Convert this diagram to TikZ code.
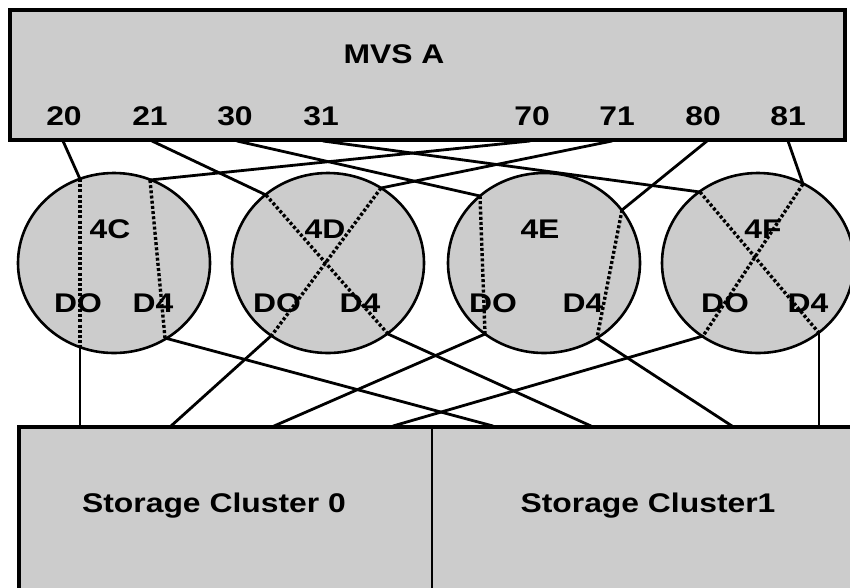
\documentclass[tikz,border=0pt]{standalone}
\usepackage{fontspec}
\newfontfamily\labfont{Liberation Sans}[FakeStretch=1.18]
\usetikzlibrary{shapes.geometric}
\definecolor{boxgray}{HTML}{CCCCCC}
\begin{document}
\begin{tikzpicture}[x=1pt,y=-1pt,
  lab/.style={font=\labfont\bfseries\fontsize{27}{27}\selectfont, inner sep=0pt, anchor=base},
  bigbox/.style={draw, fill=boxgray, line width=3.6pt, rectangle, inner sep=0pt},
  disc/.style={ellipse, draw, fill=boxgray, line width=2.6pt, inner sep=0pt, minimum width=192pt, minimum height=180pt},
  wire/.style={line width=2.8pt, line cap=round},
  dotwire/.style={line width=3.4pt, dash pattern=on 3pt off 2.2pt}]
\useasboundingbox (0,0) rectangle (850,587);
\clip (0,0) rectangle (850,587);
\fill[white] (0,0) rectangle (850,587);

% top box
\node[bigbox, minimum width=835pt, minimum height=130pt] (mvs) at (427.5,75) {};
\node[lab] (mvsl) at (394,63) {MVS A};
\foreach \n/\x in {20/64,21/150,30/235,31/321,70/532,71/617,80/703,81/788}
  \node[lab] (p\n) at (\x,125) {\n};
\foreach \n/\x in {20/63,21/152,30/237,31/323,70/530,71/612,80/707,81/788}
  \coordinate (q\n) at (\x,141);

% storage box
\node[bigbox, minimum width=851pt, minimum height=200pt] (stor) at (444.5,527) {};
\coordinate (divt) at (432,427);
\coordinate (divb) at (432,590);
\draw[line width=1.2pt] (divt) -- (divb);
\node[lab] (sc0) at (214,512) {Storage Cluster 0};
\node[lab] (sc1) at (648,512) {Storage Cluster1};
\foreach \x in {80,171,274,393,493,591,732,819}
  \coordinate (s\x) at (\x,426);

% discs
\node[disc] (c4C) at (114,263) {};
\node[disc] (c4D) at (328,263) {};
\node[disc] (c4E) at (544,263) {};
\node[disc] (c4F) at (758,263) {};

\node[lab] (l4C) at (110,238) {4C};
\node[lab] (d0C) at (78,312) {DO};
\node[lab] (d4C) at (153,312) {D4};
\node[lab] (l4D) at (325,238) {4D};
\node[lab] (d0D) at (277,312) {DO};
\node[lab] (d4D) at (360,312) {D4};
\node[lab] (l4E) at (540,238) {4E};
\node[lab] (d0E) at (493,312) {DO};
\node[lab] (d4E) at (583,312) {D4};
\node[lab] (l4F) at (763,238) {4F};
\node[lab] (d0F) at (725,312) {DO};
\node[lab] (d4F) at (808,312) {D4};

% points on discs
\coordinate (c4Ca) at (80,179);  \coordinate (c4Cb) at (80,347);
\coordinate (c4Cc) at (150,180); \coordinate (c4Cd) at (165,338);
\coordinate (c4Da) at (266,195); \coordinate (c4Db) at (388,334);
\coordinate (c4Dc) at (381,188); \coordinate (c4Dd) at (272,335);
\coordinate (c4Ea) at (480,196); \coordinate (c4Eb) at (485,334);
\coordinate (c4Ec) at (622,210); \coordinate (c4Ed) at (597,338);
\coordinate (c4Fa) at (700,192); \coordinate (c4Fb) at (819,333);
\coordinate (c4Fc) at (803,184); \coordinate (c4Fd) at (703,336);

% top wires
\draw[wire] (q20) -- (c4Ca);
\draw[wire] (q21) -- (c4Da);
\draw[wire] (q30) -- (c4Ea);
\draw[wire] (q31) -- (c4Fa);
\draw[wire] (q70) -- (c4Cc);
\draw[wire] (q71) -- (c4Dc);
\draw[wire] (q80) -- (c4Ec);
\draw[wire] (q81) -- (c4Fc);

% dotted paths through discs
\draw[dotwire] (c4Ca) -- (c4Cb);
\draw[dotwire] (c4Cc) -- (c4Cd);
\draw[dotwire] (c4Da) -- (c4Db);
\draw[dotwire] (c4Dc) -- (c4Dd);
\draw[dotwire] (c4Ea) -- (c4Eb);
\draw[dotwire] (c4Ec) -- (c4Ed);
\draw[dotwire] (c4Fa) -- (c4Fb);
\draw[dotwire] (c4Fc) -- (c4Fd);

% bottom wires
\draw[wire] (c4Cb) -- (s80);
\draw[wire] (c4Cd) -- (s493);
\draw[wire] (c4Dd) -- (s171);
\draw[wire] (c4Db) -- (s591);
\draw[wire] (c4Eb) -- (s274);
\draw[wire] (c4Ed) -- (s732);
\draw[wire] (c4Fd) -- (s393);
\draw[wire] (c4Fb) -- (s819);
\end{tikzpicture}
\end{document}
